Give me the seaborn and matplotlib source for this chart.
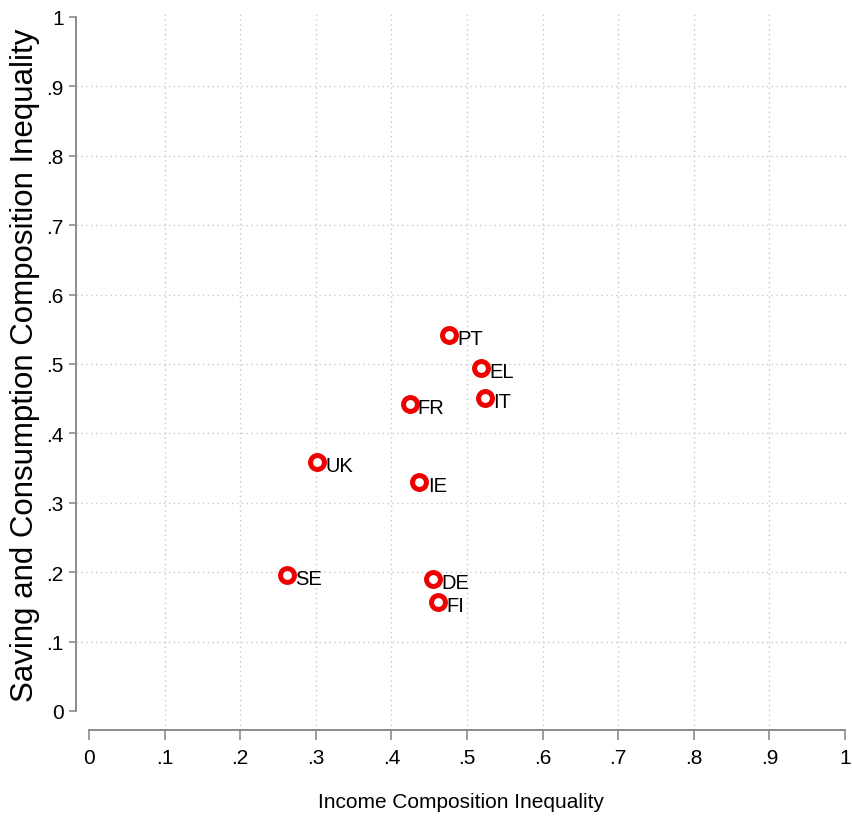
import matplotlib
matplotlib.use("Agg")
import matplotlib.pyplot as plt
import numpy as np
import pandas as pd
import seaborn as sns

# values
countries = ["PT", "EL", "IT", "FR", "UK", "IE", "SE", "DE", "FI"]
income_ineq = [0.476, 0.519, 0.524, 0.424, 0.302, 0.437, 0.262, 0.455, 0.462]
saving_ineq = [0.542, 0.494, 0.451, 0.442, 0.359, 0.330, 0.196, 0.190, 0.157]

ticks = [0, 0.1, 0.2, 0.3, 0.4, 0.5, 0.6, 0.7, 0.8, 0.9, 1]
tick_labels = ["0", ".1", ".2", ".3", ".4", ".5", ".6", ".7", ".8", ".9", "1"]

df = pd.DataFrame({"country": countries, "income": income_ineq, "saving": saving_ineq})

sns.set_style("white")
plt.rcParams['font.family'] = ['Liberation Sans', 'DejaVu Sans']
plt.rcParams['text.color'] = 'black'
plt.rcParams['axes.labelcolor'] = 'black'

W, H = 852, 820
fig = plt.figure(figsize=(W / 100, H / 100), dpi=100)
ax = fig.add_axes([76 / W, (H - 731) / H, 770 / W, 719 / H])

sns.scatterplot(data=df, x="income", y="saving", ax=ax, marker="o", s=100,
                facecolor="white", edgecolor="#ee0000", linewidth=3.6, zorder=3)

for _, row in df.iterrows():
    ax.annotate(row["country"], (row["income"], row["saving"]), xytext=(6, -2.5),
                textcoords="offset points", ha="left", va="center",
                fontsize=14.5, color="black")

ylo, yhi = -19 / 694, 1 + 6 / 694
ax.set_xlim(-13 / 757, 1 + 1 / 757)
ax.set_ylim(ylo, yhi)
ax.set_xticks(ticks)
ax.set_xticklabels(tick_labels)
ax.set_yticks(ticks)
ax.set_yticklabels(tick_labels)

ax.grid(True, linestyle=(0, (1, 2.5)), color="#c8c8c8", linewidth=1)
ax.set_axisbelow(True)
for gl in (ax.xaxis.get_gridlines()[0], ax.xaxis.get_gridlines()[-1],
           ax.yaxis.get_gridlines()[0], ax.yaxis.get_gridlines()[-1]):
    gl.set_visible(False)

for side in ["top", "right"]:
    ax.spines[side].set_visible(False)
for side in ["left", "bottom"]:
    ax.spines[side].set_color("#8c8c8c")
    ax.spines[side].set_linewidth(1.4)
    ax.spines[side].set_bounds(0, 1)

ax.tick_params(axis="x", length=7, width=1.2, color="#8c8c8c", labelcolor="black",
               pad=6, labelsize=15, bottom=True)
ax.tick_params(axis="y", length=5, width=1.2, color="#8c8c8c", labelcolor="black",
               pad=4, labelsize=15, left=True)

ax.set_xlabel("Income Composition Inequality", fontsize=15, labelpad=18)
ax.set_ylabel("Saving and Consumption Composition Inequality", fontsize=22.5)
# centre the y label on the 0-1 axis line, not on the whole axes box
ax.yaxis.set_label_coords(-0.047, (0.5 - ylo) / (yhi - ylo))

plt.savefig("out.png", dpi=100)
